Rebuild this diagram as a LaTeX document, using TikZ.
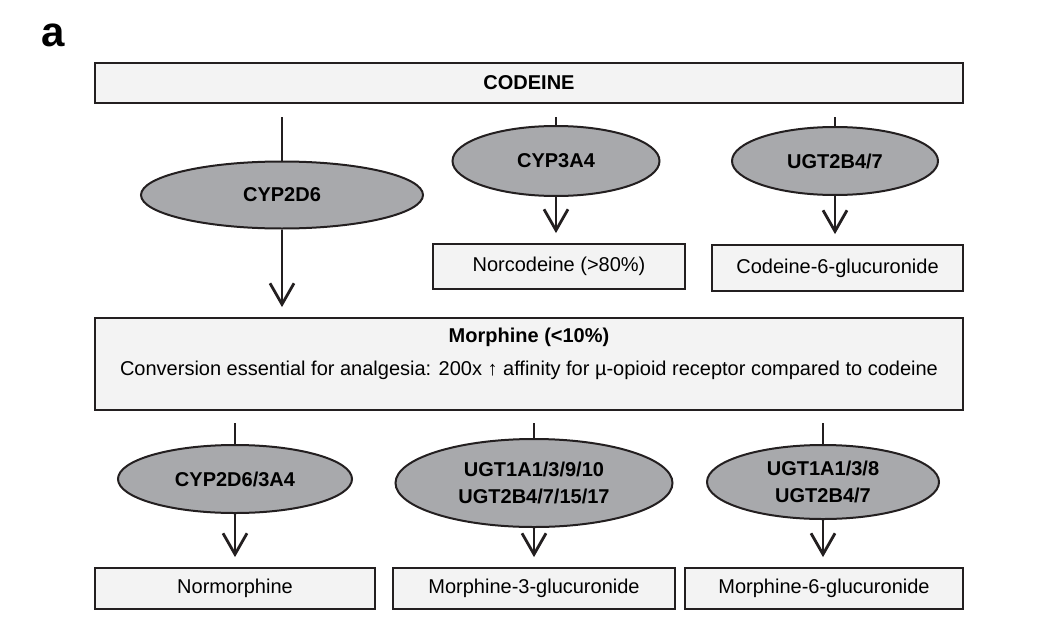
\documentclass[tikz,border=0pt]{standalone}
\usepackage{fontspec}
\setmainfont{Liberation Sans}
\usetikzlibrary{shapes,positioning,calc}
\usetikzlibrary{shapes.geometric, arrows}
\usetikzlibrary{arrows.meta}
\definecolor{inchiostro}{HTML}{231F20}
\definecolor{grigiochiaro}{HTML}{F3F3F3}
\definecolor{grigioscuro}{HTML}{A8A9AC}
\tikzstyle{metabolita} = [rectangle, minimum height=20pt, inner sep=0pt, text centered, draw=inchiostro, fill=grigiochiaro, line width=0.9pt]
\tikzstyle{enzima} = [ellipse, inner sep=0pt, align=center, font=\bfseries, draw=inchiostro, fill=grigioscuro, line width=1pt]
\tikzstyle{gambo} = [draw=inchiostro, line width=1.4pt]
\tikzstyle{freccia} = [draw=inchiostro, line width=1.4pt, -{Straight Barb[length=10.5pt,width=12pt]}, shorten >=5pt]
\begin{document}
\begin{tikzpicture}[x=0.5pt,y=-0.5pt]
\useasboundingbox (0,0) rectangle (1058,631);
\node[anchor=base west, inner sep=0pt, font=\fontsize{21}{25}\selectfont\bfseries] (lettera) at (41,47) {a};
\node (codeina) at (529,83) [metabolita, minimum width=434pt] {\textbf{CODEINE}};
% primo livello
\node (cyp2d6) at (282,195) [enzima, minimum width=141pt, minimum height=33.5pt] {CYP2D6};
\node (cyp3a4) at (556,161) [enzima, minimum width=103.5pt, minimum height=35pt] {CYP3A4};
\node (ugtcod) at (835,161) [enzima, minimum width=103pt, minimum height=34pt] {UGT2B4/7};
\coordinate (g1) at (282,117);
\coordinate (g2) at (556,117);
\coordinate (g3) at (835,117);
\draw[gambo] (g1) -- (cyp2d6);
\draw[gambo] (g2) -- (cyp3a4);
\draw[gambo] (g3) -- (ugtcod);
\node (norcod) at (559,266.5) [metabolita, minimum width=126pt, minimum height=22.5pt] {Norcodeine (>80\%)};
\node (cod6g) at (837.5,268) [metabolita, minimum width=125.5pt, minimum height=23pt] {Codeine-6-glucuronide};
\node (morfina) at (529,364) [metabolita, minimum width=434pt, minimum height=46pt] {};
\node[align=center, inner sep=0pt] (morfinatesto) at (529,353.5) {\textbf{Morphine (<10\%)}\\[4.5pt]Conversion essential for analgesia: 200x ↑ affinity for µ-opioid receptor compared to codeine};
\draw[freccia] (cyp2d6) -- (cyp2d6 |- morfina.north);
\draw[freccia] (cyp3a4) -- (cyp3a4 |- norcod.north);
\draw[freccia] (ugtcod) -- (ugtcod |- cod6g.north);
% secondo livello
\node (cypmor) at (235,479) [enzima, minimum width=117pt, minimum height=34pt] {CYP2D6/3A4};
\node (ugtm3) at (534,483) [enzima, minimum width=138.5pt, minimum height=44pt] {UGT1A1/3/9/10\\[1.5pt]UGT2B4/7/15/17};
\node (ugtm6) at (823,482) [enzima, minimum width=116pt, minimum height=37pt] {UGT1A1/3/8\\[1.5pt]UGT2B4/7};
\coordinate (g4) at (235,423);
\coordinate (g5) at (534,423);
\coordinate (g6) at (823,423);
\draw[gambo] (g4) -- (cypmor);
\draw[gambo] (g5) -- (ugtm3);
\draw[gambo] (g6) -- (ugtm6);
\node (normor) at (235,588.5) [metabolita, minimum width=140pt, minimum height=20.5pt] {Normorphine};
\node (mor3g) at (534,588.5) [metabolita, minimum width=141pt, minimum height=20.5pt] {Morphine-3-glucuronide};
\node (mor6g) at (824,588.5) [metabolita, minimum width=139pt, minimum height=20.5pt] {Morphine-6-glucuronide};
\draw[freccia] (cypmor) -- (cypmor |- normor.north);
\draw[freccia] (ugtm3) -- (ugtm3 |- mor3g.north);
\draw[freccia] (ugtm6) -- (ugtm6 |- mor6g.north);
\end{tikzpicture}
\end{document}
